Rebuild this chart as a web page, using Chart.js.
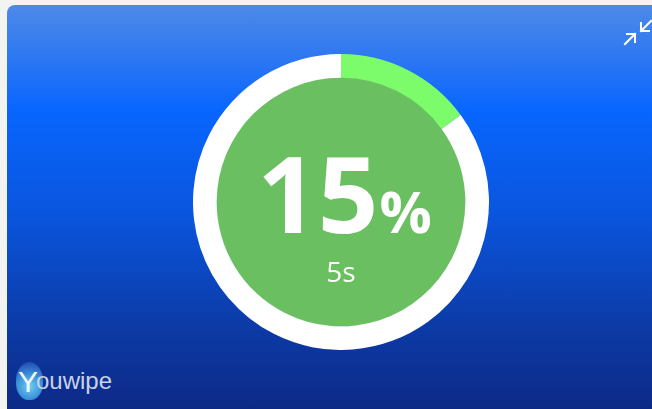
<!DOCTYPE html>
<html>
<head>
<meta charset="utf-8">
<script src="https://cdn.jsdelivr.net/npm/chart.js@4"></script>
<style>
  html, body { margin: 0; padding: 0; width: 652px; height: 409px; overflow: hidden; background: #f3f3f1; }
  .card {
    position: absolute; left: 7px; top: 5px; width: 660px; height: 420px;
    border-top-left-radius: 8px;
    background: linear-gradient(to bottom, #4d8ae9 0%, #2f78f2 12%, #0866ff 25%, #0a55dd 50%, #0c3ba8 76%, #0d2680 100%);
    overflow: hidden;
  }
  .wrap { position: absolute; left: 193px; top: 54px; width: 296px; height: 296px; }
  .icon { position: absolute; left: 622px; top: 19px; }
  .logo { position: absolute; left: 14px; top: 362px; width: 110px; height: 40px; }
  .logo .blob {
    position: absolute; left: 2px; top: 0; width: 27px; height: 38px; border-radius: 50% 50% 45% 45%;
    background: radial-gradient(circle at 50% 65%, #6fd0ee 0%, #3a8fd8 45%, #2a5fc0 75%, rgba(30,70,180,0.2) 100%);
  }
  .logo .y { position: absolute; left: 4px; top: 3px; font: 30px "Liberation Sans", Arial, sans-serif; color: #f2f6ff; }
  .logo .txt { position: absolute; left: 22px; top: 5px; font: 24px "Liberation Sans", Arial, sans-serif; color: #c9d2e6; }
</style>
</head>
<body>
<div class="card"></div>
<div class="wrap"><canvas id="progreso"></canvas></div>
<svg class="icon" width="32" height="28" viewBox="0 0 32 28">
  <g stroke="#ffffff" stroke-width="2" fill="none" stroke-linecap="square">
    <line x1="3" y1="25" x2="13" y2="15"/>
    <polyline points="5,15 13,15 13,23"/>
    <line x1="29" y1="2" x2="19" y2="12"/>
    <polyline points="19,4 19,12 27,12"/>
  </g>
</svg>
<div class="logo"><div class="blob"></div><div class="y">Y</div><div class="txt">ouwipe</div></div>
<script>
// Datos
const etiquetas = ["Completado", "Restante"];
const valores = [15, 85];
const colores = ["#7cfc6a", "#ffffff"];
const tiempo = "5s";

const ctx = document.getElementById('progreso');

// Circulo interior y texto
const centro = {
    id: 'centro',
    beforeDatasetsDraw(chart) {
        const arc = chart.getDatasetMeta(0).data[0];
        const c = chart.ctx;
        c.save();
        c.beginPath();
        c.arc(arc.x, arc.y, arc.innerRadius + 0.5, 0, Math.PI * 2);
        c.fillStyle = "#6abf60";
        c.fill();
        c.restore();
    },
    afterDraw(chart) {
        const arc = chart.getDatasetMeta(0).data[0];
        const c = chart.ctx;
        const total = valores.reduce((a, b) => a + b, 0);
        const pct = Math.round(valores[0] / total * 100);
        c.save();
        c.fillStyle = "#ffffff";
        c.textBaseline = 'alphabetic';
        c.font = 'bold 106px "Open Sans"';
        const w1 = c.measureText(String(pct)).width;
        c.font = 'bold 58px "Open Sans"';
        const w2 = c.measureText('%').width;
        const x0 = arc.x + 3 - (w1 + w2) / 2;
        c.textAlign = 'left';
        c.font = 'bold 106px "Open Sans"';
        c.fillText(String(pct), x0, arc.y + 31);
        c.font = 'bold 58px "Open Sans"';
        c.fillText('%', x0 + w1 + 1, arc.y + 31);
        c.textAlign = 'center';
        c.font = '28px "Open Sans"';
        c.fillText(tiempo, arc.x, arc.y + 80);
        c.restore();
    }
};

new Chart(ctx, {
    type: 'doughnut',
    data: {
        labels: etiquetas,
        datasets: [
            {
                data: valores,
                backgroundColor: colores,
                borderWidth: 0
            }
        ]
    },
    options: {
        responsive: true,
        maintainAspectRatio: false,
        animation: false,
        cutout: '84%',
        layout: { padding: 0 },
        plugins: {
            legend: { display: false },
            tooltip: { enabled: false }
        }
    },
    plugins: [centro]
});
</script>
</body>
</html>
